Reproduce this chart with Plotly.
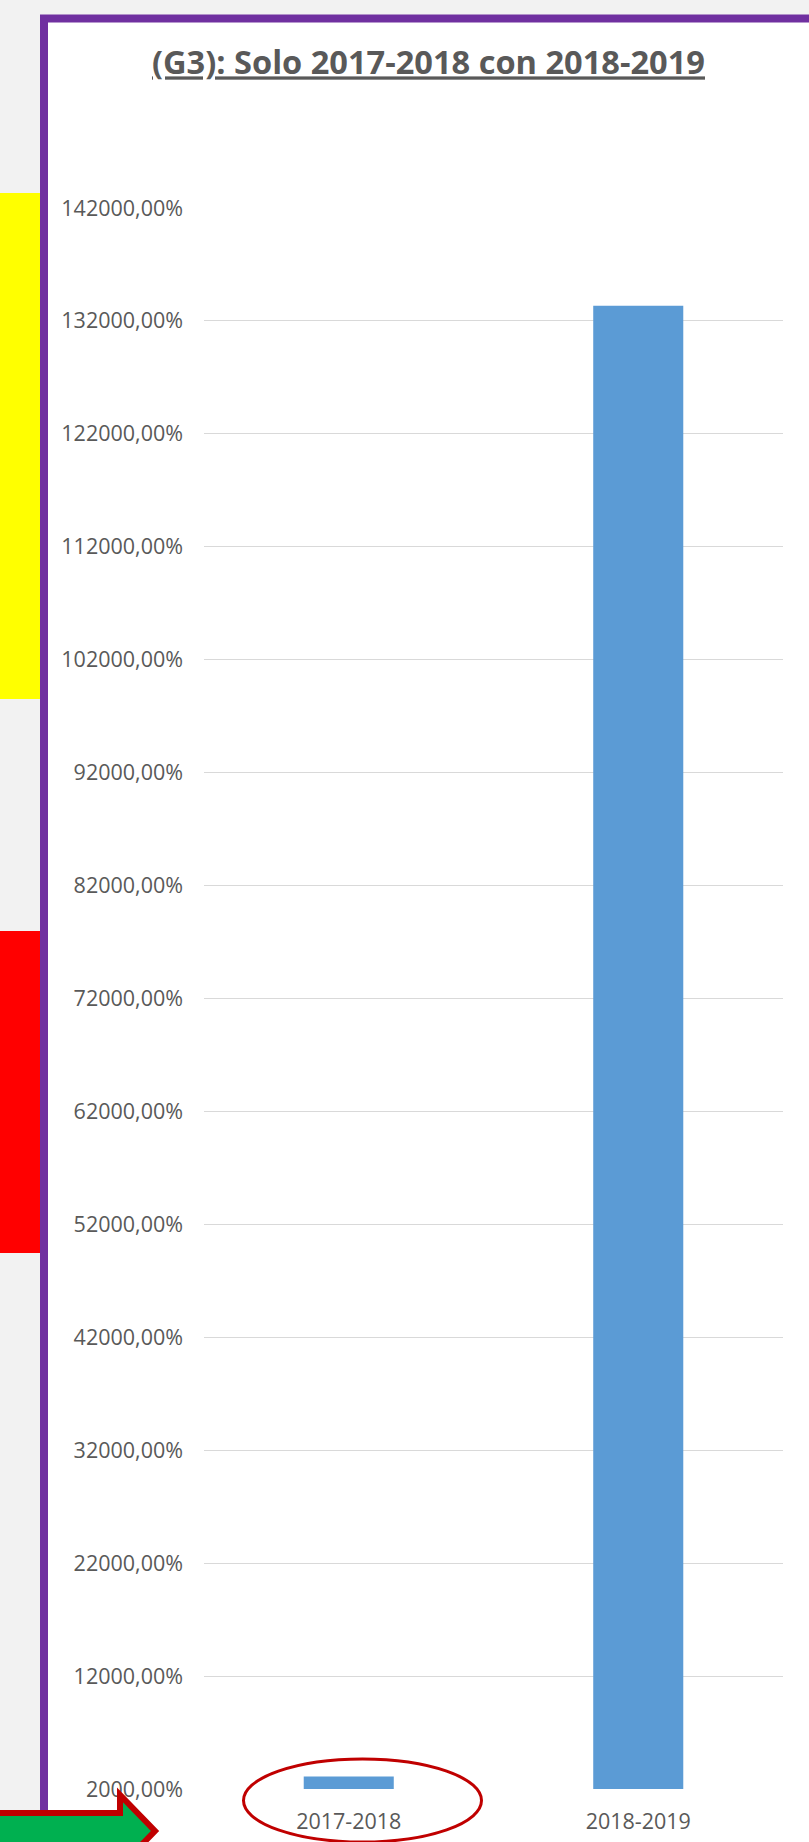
import plotly.graph_objects as go

# ---- data ----
categories = ["2017-2018", "2018-2019"]
values_pct = [3100, 133350]          # percent values
tick_start = 2000
tick_end = 142000
tick_step = 10000
title_text = "(G3): Solo 2017-2018 con 2018-2019"

W, H = 809, 1842
ML, MR, MT, MB = 204, 26, 208, 53
PW = W - ML - MR
PH = H - MT - MB


def px(x):
    return (x - ML) / PW


def py(y):
    return (H - MB - y) / PH


GRAY = "#595959"
fig = go.Figure()
fig.add_trace(go.Bar(
    x=categories, y=values_pct, marker_color="#5b9bd5",
    marker_line_width=0, hoverinfo="skip", showlegend=False,
))

shapes = []
# white chart area with purple border
shapes.append(dict(type="rect", xref="paper", yref="paper", layer="below",
                   x0=px(44), x1=px(1000), y0=py(18.5), y1=py(2000),
                   fillcolor="white", line=dict(color="#7030a0", width=8)))
# yellow & red side blocks
shapes.append(dict(type="rect", xref="paper", yref="paper", layer="below",
                   x0=px(-5), x1=px(40), y0=py(193), y1=py(699),
                   fillcolor="#ffff00", line=dict(width=0)))
shapes.append(dict(type="rect", xref="paper", yref="paper", layer="below",
                   x0=px(-5), x1=px(40), y0=py(931), y1=py(1253),
                   fillcolor="#ff0000", line=dict(width=0)))
# ellipse around 2017-2018
shapes.append(dict(type="circle", xref="paper", yref="paper", layer="above",
                   x0=px(243.5), x1=px(481.5), y0=py(1759), y1=py(1842),
                   fillcolor="rgba(0,0,0,0)", line=dict(color="#c00000", width=3)))
# green arrow
pts = [(-10, 1813), (120, 1813), (120, 1795), (155, 1831), (120, 1867),
       (120, 1849), (-10, 1849)]
path = "M " + " L ".join(f"{px(x):.5f},{py(y):.5f}" for x, y in pts) + " Z"
shapes.append(dict(type="path", xref="paper", yref="paper", layer="above",
                   path=path, fillcolor="#00b050",
                   line=dict(color="#c00000", width=6)))

fig.update_layout(
    width=W, height=H,
    margin=dict(l=ML, r=MR, t=MT, b=MB, autoexpand=False),
    paper_bgcolor="#f2f2f2", plot_bgcolor="rgba(0,0,0,0)",
    separators=",.",
    bargap=0.689,
    shapes=shapes,
    title=dict(text=f"<b>{title_text}</b>", xref="paper", x=px(428.5),
               xanchor="center", yref="container", y=1 - 63 / H, yanchor="middle",
               font=dict(family="Open Sans", size=32.6, color=GRAY, lineposition="under")),
    xaxis=dict(showgrid=False, zeroline=False, showline=False, ticks="",
               ticklabelstandoff=17,
               tickfont=dict(family="Open Sans", size=21.5, color=GRAY)),
    yaxis=dict(range=[tick_start, tick_end], tick0=tick_start, dtick=tick_step,
               tickformat=".2f", ticksuffix="%", showgrid=True,
               gridcolor="#d9d9d9", gridwidth=1.3, zeroline=False, showline=False,
               ticks="", ticklabelstandoff=20,
               tickfont=dict(family="Open Sans", size=21.5, color=GRAY)),
)
fig.write_html("out.html", config={"displayModeBar": False},
               post_script="document.body.style.margin='0';document.body.style.padding='0';")
